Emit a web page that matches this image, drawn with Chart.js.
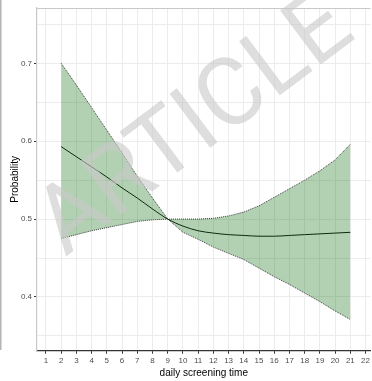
<!DOCTYPE html>
<html>
<head>
<meta charset="utf-8">
<script src="https://cdn.jsdelivr.net/npm/chart.js@4"></script>
<style>
  html, body { margin: 0; padding: 0; background: #fff; overflow: hidden; }
  #wrap { width: 372px; height: 381px; position: relative; }
</style>
</head>
<body>
<div id="wrap"><canvas id="myChart"></canvas></div>
<script>
// data
const screenTime = [2, 3, 4, 5, 6, 7, 8, 9, 10, 11, 12, 13, 14, 15, 16, 17, 18, 19, 20, 21];
const meanProb  = [0.593, 0.580, 0.567, 0.554, 0.540, 0.527, 0.513, 0.500, 0.491, 0.485,
                   0.482, 0.480, 0.479, 0.478, 0.478, 0.479, 0.480, 0.481, 0.482, 0.483];
const upperProb = [0.700, 0.672, 0.643, 0.614, 0.585, 0.555, 0.527, 0.500, 0.500, 0.500,
                   0.501, 0.504, 0.509, 0.517, 0.528, 0.539, 0.550, 0.562, 0.576, 0.596];
const lowerProb = [0.475, 0.480, 0.485, 0.489, 0.493, 0.497, 0.499, 0.500, 0.483, 0.474,
                   0.464, 0.456, 0.448, 0.437, 0.426, 0.416, 0.405, 0.394, 0.382, 0.371];
const xTicks = [1, 2, 3, 4, 5, 6, 7, 8, 9, 10, 11, 12, 13, 14, 15, 16, 17, 18, 19, 20, 21, 22];
const yGrid = [0.35, 0.4, 0.45, 0.5, 0.55, 0.6, 0.65, 0.7, 0.75];
const yLabels = [0.4, 0.5, 0.6, 0.7];

const pts = arr => arr.map((v, i) => ({ x: screenTime[i], y: v }));
const isLabel = v => yLabels.some(l => Math.abs(l - v) < 1e-6);

// panel frame, side rule and watermark
const decor = {
  id: 'decor',
  beforeDraw(chart) {
    const { ctx } = chart;
    ctx.save();
    ctx.fillStyle = '#b4b4b4';
    ctx.fillRect(0, 0, 1.5, 350);
    ctx.restore();
  },
  afterDatasetsDraw(chart) {
    const { ctx, chartArea: { top, left, right } } = chart;
    ctx.save();
    ctx.strokeStyle = '#c8c8c8';
    ctx.lineWidth = 1.2;
    ctx.beginPath();
    ctx.moveTo(left, top + 0.5);
    ctx.lineTo(right, top + 0.5);
    ctx.stroke();
    ctx.restore();
  },
  afterDraw(chart) {
    const { ctx } = chart;
    ctx.save();
    ctx.translate(197, 128);
    ctx.rotate(-37 * Math.PI / 180);
    ctx.font = '95px Roboto, "Liberation Sans", sans-serif';
    ctx.fillStyle = 'rgba(200, 200, 200, 0.6)';
    ctx.textAlign = 'center';
    ctx.textBaseline = 'middle';
    ctx.fillText('ARTICLE', 0, 0);
    ctx.restore();
  }
};

const data = {
  datasets: [
    {
      label: 'lower',
      data: pts(lowerProb),
      borderColor: '#2b2b2b',
      borderWidth: 0.9,
      borderDash: [1, 1],
      pointRadius: 0,
      tension: 0,
      fill: false
    },
    {
      label: 'upper',
      data: pts(upperProb),
      borderColor: '#2b2b2b',
      borderWidth: 0.9,
      borderDash: [1, 1],
      pointRadius: 0,
      tension: 0,
      fill: { target: 0 },
      backgroundColor: 'rgba(0, 100, 0, 0.3)'
    },
    {
      label: 'mean',
      data: pts(meanProb),
      borderColor: '#111',
      borderWidth: 1,
      pointRadius: 0,
      cubicInterpolationMode: 'monotone',
      fill: false
    }
  ]
};

const config = {
  type: 'line',
  data,
  options: {
    responsive: true,
    maintainAspectRatio: false,
    animation: false,
    layout: { padding: { top: 8, right: 0, left: 0, bottom: 0 } },
    plugins: {
      legend: { display: false },
      tooltip: { enabled: false }
    },
    scales: {
      x: {
        type: 'linear',
        min: 0.41,
        max: 22.33,
        afterBuildTicks: scale => { scale.ticks = xTicks.map(v => ({ value: v })); },
        afterFit: scale => { scale.height = 30.3; },
        border: { display: true, color: '#333', width: 1.2 },
        grid: { color: '#ececec', lineWidth: 1, tickLength: 3, tickColor: '#333' },
        ticks: {
          color: '#4d4d4d',
          font: { size: 8, family: 'Liberation Sans' },
          padding: 2,
          maxRotation: 0,
          autoSkip: false
        },
        title: {
          display: true,
          text: 'daily screening time',
          color: '#000',
          font: { size: 10, family: 'Liberation Sans' },
          padding: { top: 0, bottom: 2 }
        }
      },
      y: {
        type: 'linear',
        min: 0.331,
        max: 0.771,
        afterBuildTicks: scale => { scale.ticks = yGrid.map(v => ({ value: v })); },
        afterFit: scale => { scale.width = 37; },
        border: { display: true, color: '#c8c8c8', width: 1.2 },
        grid: {
          color: '#ececec',
          lineWidth: 1,
          tickLength: 3,
          tickColor: ctx => isLabel(ctx.tick.value) ? '#333' : 'rgba(0,0,0,0)'
        },
        ticks: {
          color: '#4d4d4d',
          font: { size: 8, family: 'Liberation Sans' },
          padding: 2,
          callback: v => isLabel(v) ? v.toFixed(1) : ''
        },
        title: {
          display: true,
          text: 'Probability',
          color: '#000',
          font: { size: 10, family: 'Liberation Sans' },
          padding: { top: 9, bottom: 0 }
        }
      }
    }
  },
  plugins: [decor]
};

const myChart = new Chart(document.getElementById('myChart'), config);
</script>
</body>
</html>
